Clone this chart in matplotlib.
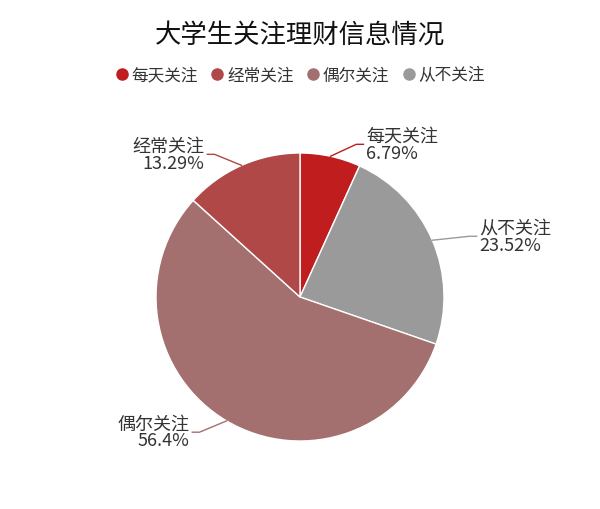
import numpy as np
import matplotlib.pyplot as plt
from matplotlib.lines import Line2D

plt.rcParams['font.family'] = ['Noto Sans CJK SC', 'DejaVu Sans']

# data (order as drawn clockwise from 12 o'clock)
labels = ['每天关注', '从不关注', '偶尔关注', '经常关注']
values = [6.79, 23.52, 56.4, 13.29]
value_text = ['6.79%', '23.52%', '56.4%', '13.29%']
colors = ['#c01d1f', '#9a9a9a', '#a46f6f', '#b04848']

# legend order
legend_labels = ['每天关注', '经常关注', '偶尔关注', '从不关注']

# label line tweaks (angle shift in degrees, elbow radius)
elbow_shift = [-8, -3.5, -6, 7]
elbow_r = [1.13, 1.25, 1.17, 1.155]

fig = plt.figure(figsize=(6, 5.1), dpi=100)
ax = fig.add_axes([0.25, 62 / 510, 0.5, 300 / 510])

wedges, _ = ax.pie(values, colors=colors, startangle=90, counterclock=False,
                   radius=1, wedgeprops=dict(edgecolor='white', linewidth=1))

lim = 150 / 144
ax.set_xlim(-lim, lim)
ax.set_ylim(-lim, lim)
ax.set_aspect('equal')
ax.axis('off')

for i, w in enumerate(wedges):
    mid = (w.theta1 + w.theta2) / 2
    p0 = np.array([np.cos(np.radians(mid)), np.sin(np.radians(mid))])
    a = np.radians(mid + elbow_shift[i])
    p1 = elbow_r[i] * np.array([np.cos(a), np.sin(a)])
    side = 1 if p1[0] > 0 else -1
    p2 = p1 + np.array([side * 0.05, 0])
    ax.plot([p0[0], p1[0], p2[0]], [p0[1], p1[1], p2[1]], color=colors[i],
            lw=1, clip_on=False)
    ax.text(p2[0] + side * 0.02, p2[1], labels[i] + '\n' + value_text[i],
            ha='left' if side > 0 else 'right', va='center',
            multialignment='left' if side > 0 else 'right',
            fontsize=13, color='#333333', linespacing=0.9, clip_on=False)

fig.text(0.5, 1 - 35 / 510, '大学生关注理财信息情况', ha='center', va='center',
         fontsize=19, fontweight='medium', color='#111111')

color_of = dict(zip(labels, colors))
handles = [Line2D([], [], marker='o', ls='', markersize=8,
                  markerfacecolor=color_of[l], markeredgecolor=color_of[l])
           for l in legend_labels]
fig.legend(handles, legend_labels, loc='center', bbox_to_anchor=(0.5, 1 - 76 / 510),
           ncol=4, frameon=False, fontsize=12, handletextpad=0.2,
           columnspacing=0.75, handlelength=0.8, labelcolor='#333333')

fig.savefig('out.png', dpi=100, facecolor='white')
